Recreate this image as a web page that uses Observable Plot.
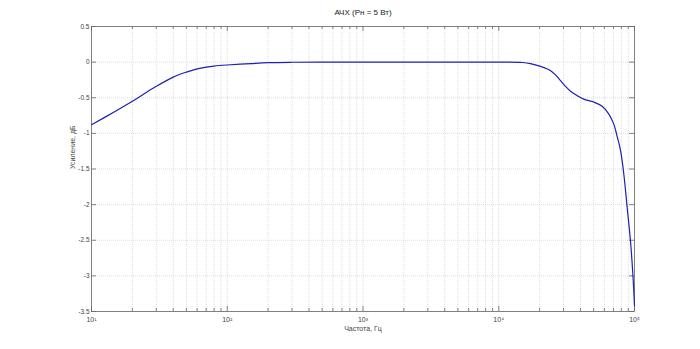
<!DOCTYPE html>
<html>
<head>
<meta charset="utf-8">
<script src="https://cdn.jsdelivr.net/npm/d3@7"></script>
<script src="https://cdn.jsdelivr.net/npm/@observablehq/plot@0.6"></script>
<style>
  html, body { margin: 0; padding: 0; background: #fff; }
  svg { display: block; }
</style>
</head>
<body>
<div id="chart"></div>
<script>
const title = "АЧХ (Pн = 5 Вт)";
const xLabel = "Частота, Гц";
const yLabel = "Усиление, дБ";

const freqs = [10, 15, 20, 30, 40, 50, 60, 70, 80, 100, 150, 200, 300, 500, 1000, 5000, 10000, 15000, 17100, 20300, 24100, 26200, 28500, 31000, 33800, 37800, 42300, 50100, 57800, 64700, 70400, 74000, 78900, 83400, 88300, 93300, 97200, 100000];
const gains = [-0.88, -0.69, -0.55, -0.34, -0.21, -0.14, -0.095, -0.07, -0.055, -0.04, -0.02, -0.008, -0.002, 0, 0, 0, 0, -0.005, -0.02, -0.06, -0.12, -0.18, -0.26, -0.34, -0.41, -0.47, -0.52, -0.56, -0.62, -0.73, -0.87, -1.02, -1.24, -1.57, -2.04, -2.5, -2.97, -3.42];

const xTicks = [10, 100, 1000, 10000, 100000];
const xTickLabels = ["10¹", "10²", "10³", "10⁴", "10⁵"];
const yTicks = [0.5, 0, -0.5, -1, -1.5, -2, -2.5, -3, -3.5];

const data = freqs.map((f, i) => ({f, g: gains[i]}));
const xMinor = [];
for (let d = 10; d < 100000; d *= 10) for (let m = 2; m <= 9; m++) xMinor.push(d * m);
const labelOf = v => xTickLabels[xTicks.indexOf(v)];

const W = 700, H = 349, mL = 91, mR = 66, mT = 26, mB = 38;
const fw = W - mL - mR, fh = H - mT - mB;
const gridStyle = {stroke: "#d4d4d4", strokeDasharray: "1,1", strokeWidth: 0.8};
const tickStyle = {stroke: "#666", strokeWidth: 0.8};

const chart = Plot.plot({
  width: W, height: H,
  marginLeft: mL, marginRight: mR, marginTop: mT, marginBottom: mB,
  style: {fontFamily: "Liberation Sans, Arial, sans-serif", fontSize: "6.5px", color: "#444", background: "#fff"},
  x: {type: "log", domain: [10, 100000]},
  y: {domain: [-3.5, 0.5]},
  marks: [
    Plot.ruleX(xTicks.concat(xMinor), gridStyle),
    Plot.ruleY(yTicks, gridStyle),
    // inward ticks
    Plot.ruleX(xTicks, {...tickStyle, insetTop: fh - 5}),
    Plot.ruleX(xTicks, {...tickStyle, insetBottom: fh - 5}),
    Plot.ruleX(xMinor, {...tickStyle, insetTop: fh - 3}),
    Plot.ruleX(xMinor, {...tickStyle, insetBottom: fh - 3}),
    Plot.ruleY(yTicks, {...tickStyle, insetRight: fw - 5}),
    Plot.ruleY(yTicks, {...tickStyle, insetLeft: fw - 5}),
    Plot.frame({stroke: "#666", strokeWidth: 0.8}),
    Plot.axisX({ticks: xTicks, tickSize: 0, tickPadding: 6, tickFormat: labelOf, label: null, fill: "#444", fontSize: 7}),
    Plot.axisY({ticks: yTicks, tickSize: 0, tickPadding: 2, tickFormat: d => String(d), label: null, fill: "#444"}),
    Plot.line(data, {x: "f", y: "g", stroke: "#1f1fb4", strokeWidth: 1.2, curve: "catmull-rom"}),
    Plot.text([title], {frameAnchor: "top", dy: -17, fontSize: 8, fill: "#222"}),
    Plot.text([xLabel], {frameAnchor: "bottom", dy: 19, fontSize: 7, fill: "#444"}),
    Plot.text([yLabel], {frameAnchor: "left", dx: -19, rotate: -90, fontSize: 7, fill: "#444"})
  ]
});
document.getElementById("chart").appendChild(chart);
</script>
</body>
</html>
